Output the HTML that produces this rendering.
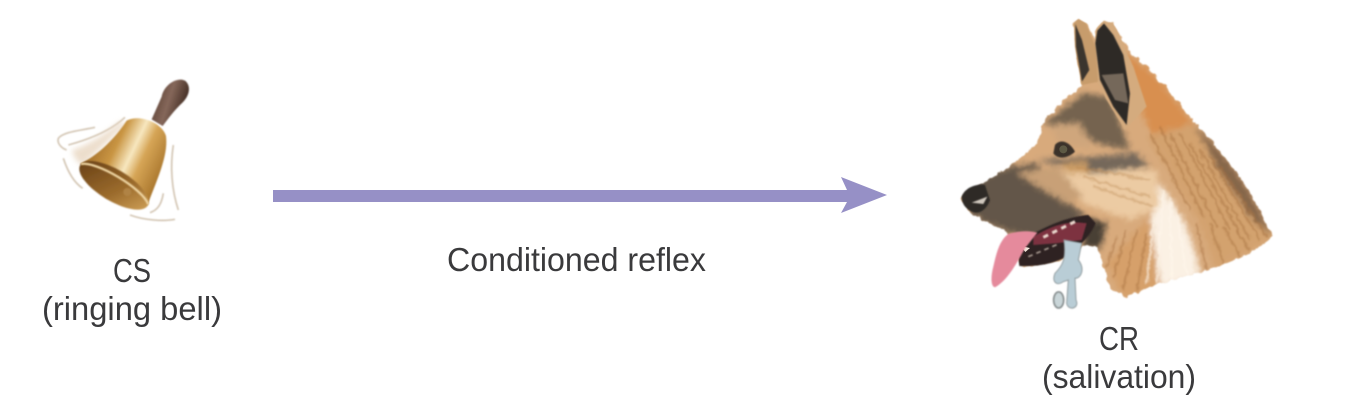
<!DOCTYPE html>
<html>
<head>
<meta charset="utf-8">
<style>
html,body{margin:0;padding:0;background:#fff;width:1348px;height:403px;overflow:hidden}
svg{display:block}
text{font-family:"Liberation Sans",sans-serif;fill:#3a3a3c;font-size:33px}
</style>
</head>
<body>
<svg width="1348" height="403" viewBox="0 0 1348 403" xmlns="http://www.w3.org/2000/svg">
<defs>
<filter id="b1" x="-20%" y="-20%" width="140%" height="140%"><feGaussianBlur stdDeviation="2.5"/></filter>
<filter id="b2" x="-30%" y="-30%" width="160%" height="160%"><feGaussianBlur stdDeviation="9"/></filter>
<filter id="fur" x="-10%" y="-10%" width="120%" height="120%">
<feTurbulence type="fractalNoise" baseFrequency="0.05" numOctaves="2" seed="4" result="n"/>
<feDisplacementMap in="SourceGraphic" in2="n" scale="16" xChannelSelector="R" yChannelSelector="G"/>
<feGaussianBlur stdDeviation="2.2"/>
</filter>
<linearGradient id="bell" gradientUnits="userSpaceOnUse" x1="190" y1="240" x2="400" y2="340">
<stop offset="0" stop-color="#a4702a"/><stop offset="0.3" stop-color="#c99543"/><stop offset="0.52" stop-color="#f7e7bf"/><stop offset="0.68" stop-color="#d6a556"/><stop offset="1" stop-color="#a8752c"/>
</linearGradient>
<linearGradient id="handle" x1="0" y1="0" x2="1" y2="0.4">
<stop offset="0" stop-color="#4d3528"/><stop offset="0.55" stop-color="#85675a"/><stop offset="1" stop-color="#3f2a20"/>
</linearGradient>
<linearGradient id="inner" gradientUnits="userSpaceOnUse" x1="170" y1="320" x2="340" y2="430">
<stop offset="0" stop-color="#6d4418"/><stop offset="0.6" stop-color="#9c6c2d"/><stop offset="1" stop-color="#c99a52"/>
</linearGradient>
<clipPath id="dogclip"><path d="M35 560 L100 520 L180 470 L262 400 L285 330 L340 272 L395 230 L385 170 L372 40 L385 27 L408 40 L434 85 L438 55 L462 32 L490 40 L540 125 L620 200 L720 320 L800 410 L890 530 L970 680 L900 730 L800 772 L700 800 L600 830 L525 862 L480 835 L445 715 L400 705 L335 750 L220 772 L170 662 L100 632 L50 600 Z"/></clipPath>
</defs>

<!-- Bell -->
<g transform="translate(30,60) scale(.3333)">
<g filter="url(#b1)" fill="none" stroke="#cfc0ac" stroke-width="5" opacity=".9">
<path d="M195 202 C150 212 100 215 85 235 C80 250 95 265 110 270"/>
<path d="M285 172 C240 215 170 240 115 255"/>
<path d="M100 295 C115 340 135 370 158 385"/>
<path d="M430 255 C420 320 425 390 445 450"/>
<path d="M400 400 C395 430 385 450 360 458"/>
<path d="M300 465 C340 480 400 485 435 478"/>
</g>
<path filter="url(#b2)" d="M270 185 C220 230 150 265 125 270 C135 300 145 310 160 315 L290 190 Z" fill="#e8d6c0" opacity=".8"/>
<path d="M365 178 L395 110 C402 75 440 50 465 62 C485 78 480 110 450 135 C430 155 418 172 398 198 Z" fill="url(#handle)" filter="url(#b1)"/>
<path d="M150 312 C205 285 255 235 290 182 C325 162 395 185 408 228 C415 285 385 350 352 436 Z" fill="url(#bell)" filter="url(#b1)"/>
<g transform="rotate(31 252 376)">
<ellipse cx="252" cy="376" rx="118" ry="47" fill="url(#inner)" filter="url(#b1)"/>
<path d="M134 372 C170 340 330 340 370 372" fill="none" stroke="#edd3a0" stroke-width="7" filter="url(#b1)"/>
</g>
<circle cx="292" cy="396" r="12" fill="#b08345" filter="url(#b1)"/>
</g>

<!-- Arrow -->
<polygon points="273,190 847,190 841,177 887,195 841,213 847,202 273,202" fill="#9690c6"/>

<!-- Dog -->
<g transform="translate(950,10) scale(.3333)">
<g filter="url(#fur)">
<g clip-path="url(#dogclip)">
<rect x="0" y="0" width="1020" height="930" fill="#d8aa7c"/>
<g filter="url(#b2)">
<path d="M520 120 L620 200 L730 340 L620 400 L570 300 Z" fill="#d88f50"/>
<path d="M590 380 L730 340 L860 500 L975 680 L800 780 L740 620 Z" fill="#d3a26e"/>
<path d="M730 340 L800 410 L890 530 L970 680 L910 630 L800 470 Z" fill="#84654a"/>
<path d="M625 520 C670 570 730 660 750 800 L635 830 C605 760 595 680 605 620 Z" fill="#fbf1e4"/>
<path d="M600 620 L630 830 L520 870 L470 760 Z" fill="#d6a06a"/>
<path d="M330 480 L620 480 L630 590 L540 630 L400 580 Z" fill="#eccba3"/>
<path d="M280 340 L400 250 L480 260 L540 420 L440 400 L380 360 Z" fill="#74634f"/>
<path d="M290 345 L390 340 L430 420 L330 400 Z" fill="#cfa67c"/>
<path d="M260 450 L440 440 L560 430 L600 470 L420 490 Z" fill="#75675a"/>
<path d="M335 460 L410 455 L420 490 L345 490 Z" fill="#cd9e66"/>
<path d="M30 530 L180 470 L260 460 L330 560 L400 610 L330 690 L180 670 L70 620 Z" fill="#64574a"/>
<path d="M200 490 L320 470 L400 560 L350 580 Z" fill="#c8a077"/>
<path d="M400 620 L470 640 L450 720 L400 710 Z" fill="#4a4035"/>
</g>
<g fill="none" stroke-width="5" opacity=".5" filter="url(#b1)" stroke="#9c6534">
<path d="M600 370 L720 600 M630 350 L760 620 M660 370 L800 650 M690 370 L840 660 M720 400 L870 670 M750 420 L900 690 M780 440 L930 690 M810 470 L950 680"/>
<path d="M740 640 L770 780 M780 640 L820 760 M820 650 L870 740 M860 660 L900 720"/>
<path d="M560 660 L520 840 M590 670 L560 840 M530 660 L490 800 M500 680 L470 770"/>
<path d="M400 500 L600 560 M430 530 L610 590 M380 470 L600 510" stroke="#b98650"/>
</g>
<g fill="none" stroke-width="6" opacity=".75" filter="url(#b1)" stroke="#fff6ea">
<path d="M640 540 L620 820 M660 560 L665 810 M680 600 L710 800 M610 640 L590 820"/>
</g>
</g>
</g>
<!-- Ears -->
<path d="M395 225 L375 110 L372 40 L385 27 L408 40 L445 130 L447 215 Z" fill="#c79c6c" filter="url(#b1)"/>
<path d="M396 215 L378 110 L376 42 L396 90 L418 180 Z" fill="#3b342d" filter="url(#b1)"/>
<path d="M436 100 L440 55 L462 32 L490 42 L550 170 L590 290 L525 360 L470 270 L445 220 Z" fill="#d4ab7e" filter="url(#b1)"/>
<path d="M436 100 L442 62 L462 40 L490 75 L520 135 L540 250 L530 345 L490 290 L450 210 Z" fill="#2e2a26" filter="url(#b1)"/>
<path d="M455 195 L520 190 L535 280 L495 270 Z" fill="#74685a" filter="url(#b1)"/>
<!-- Eye -->
<path d="M315 405 C330 385 360 395 375 425 C355 445 325 450 310 430 Z" fill="#3b332a" filter="url(#b1)"/>
<circle cx="340" cy="418" r="12" fill="#5e5a45"/>
<!-- Nose -->
<path d="M35 560 C45 530 85 520 105 525 L120 570 C110 600 85 615 65 605 C45 595 35 580 35 560 Z" fill="#2f2a28" filter="url(#b1)"/>
<path d="M65 578 L112 560 L100 582 Z" fill="#cfc7bd" filter="url(#b1)"/>
<!-- Mouth -->
<path d="M200 700 C280 650 350 620 415 615 L437 640 C420 680 390 710 340 745 C300 765 250 770 208 768 Z" fill="#2d2222" filter="url(#b1)"/>
<path d="M250 680 C300 650 350 630 410 640 L395 690 L320 700 L250 705 Z" fill="#7d3340" filter="url(#b1)"/>
<path d="M280 682 L385 630" stroke="#e8d6cc" stroke-width="9" stroke-dasharray="16 14" fill="none" filter="url(#b1)"/>
<path d="M235 740 L330 700" stroke="#a89a90" stroke-width="5" stroke-dasharray="14 12" fill="none" filter="url(#b1)"/>
<path d="M212 708 L240 714 L226 726 Z" fill="#efe4d8"/>
<!-- Tongue -->
<path d="M175 672 C210 662 235 662 262 668 L225 715 C205 750 175 810 135 832 C122 830 122 800 130 770 C140 725 150 690 175 672 Z" fill="#e58a9c" filter="url(#b1)"/>
<!-- Drool -->
<g filter="url(#b1)">
<path d="M342 690 L395 700 L385 750 C405 775 395 805 375 805 L378 870 C390 895 355 905 350 880 L355 810 L340 815 C320 830 305 815 315 790 C335 770 350 750 342 690 Z" fill="#b9cdd6" stroke="#8f9a9d" stroke-width="3"/>
<ellipse cx="326" cy="870" rx="15" ry="24" fill="#c9d5d8" stroke="#858c8d" stroke-width="5"/>
</g>
</g>

<!-- Labels -->
<text x="576.5" y="271" text-anchor="middle" textLength="259" lengthAdjust="spacingAndGlyphs">Conditioned reflex</text>
<text x="132" y="282" text-anchor="middle" textLength="38" lengthAdjust="spacingAndGlyphs">CS</text>
<text x="132" y="320" text-anchor="middle" textLength="180" lengthAdjust="spacingAndGlyphs">(ringing bell)</text>
<text x="1119" y="350" text-anchor="middle" textLength="40" lengthAdjust="spacingAndGlyphs">CR</text>
<text x="1119" y="388" text-anchor="middle" textLength="154" lengthAdjust="spacingAndGlyphs">(salivation)</text>
</svg>
</body>
</html>
